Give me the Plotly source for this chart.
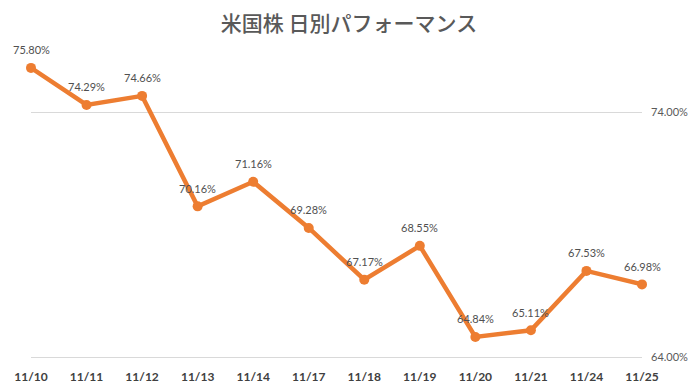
import plotly.graph_objects as go

dates = ["11/10", "11/11", "11/12", "11/13", "11/14", "11/17", "11/18", "11/19", "11/20", "11/21", "11/24", "11/25"]
values = [75.80, 74.29, 74.66, 70.16, 71.16, 69.28, 67.17, 68.55, 64.84, 65.11, 67.53, 66.98]
labels = [f"{v:.2f}%" for v in values]
title = "米国株 日別パフォーマンス"
ytick_vals = [64, 74]
ytick_text = ["64.00%", "74.00%"]

xs = list(range(len(dates)))
fig = go.Figure()
fig.add_trace(go.Scatter(
    x=xs, y=values, mode="lines+markers",
    line=dict(color="#ED7D31", width=4.5),
    marker=dict(color="#ED7D31", size=10),
    cliponaxis=False, hoverinfo="skip", showlegend=False,
))
for x, v, t in zip(xs, values, labels):
    fig.add_annotation(x=x, y=v, text=t, showarrow=False, xanchor="center", yanchor="middle",
                       yshift=18, font=dict(family="Lato, Open Sans, sans-serif", size=11, color="#505050"))
fig.update_layout(
    width=698, height=392,
    margin=dict(l=31, r=56, t=63, b=31.5, autoexpand=False),
    paper_bgcolor="white", plot_bgcolor="white",
    title=dict(text=title, x=0.5, xanchor="center", y=0.94, yanchor="middle",
               font=dict(family="Noto Sans CJK JP", size=21, color="#595959", weight=500)),
    xaxis=dict(range=[0, 11], tickmode="array", tickvals=xs, ticktext=dates, automargin=False,
               showgrid=False, zeroline=False, showline=False, ticks="", ticklabelstandoff=8,
               tickfont=dict(family="Lato, Open Sans, sans-serif", size=12, color="#404040", weight="bold")),
    yaxis=dict(range=[63.9, 76], side="right", tickmode="array", tickvals=ytick_vals, ticktext=ytick_text,
               automargin=False, showgrid=True, gridcolor="#D9D9D9", gridwidth=1, zeroline=False,
               showline=False, ticks="", ticklabelstandoff=8,
               tickfont=dict(family="Lato, Open Sans, sans-serif", size=11, color="#595959")),
)
fig.write_html("out.html", config={"displayModeBar": False}, post_script="document.body.style.margin='0';")
